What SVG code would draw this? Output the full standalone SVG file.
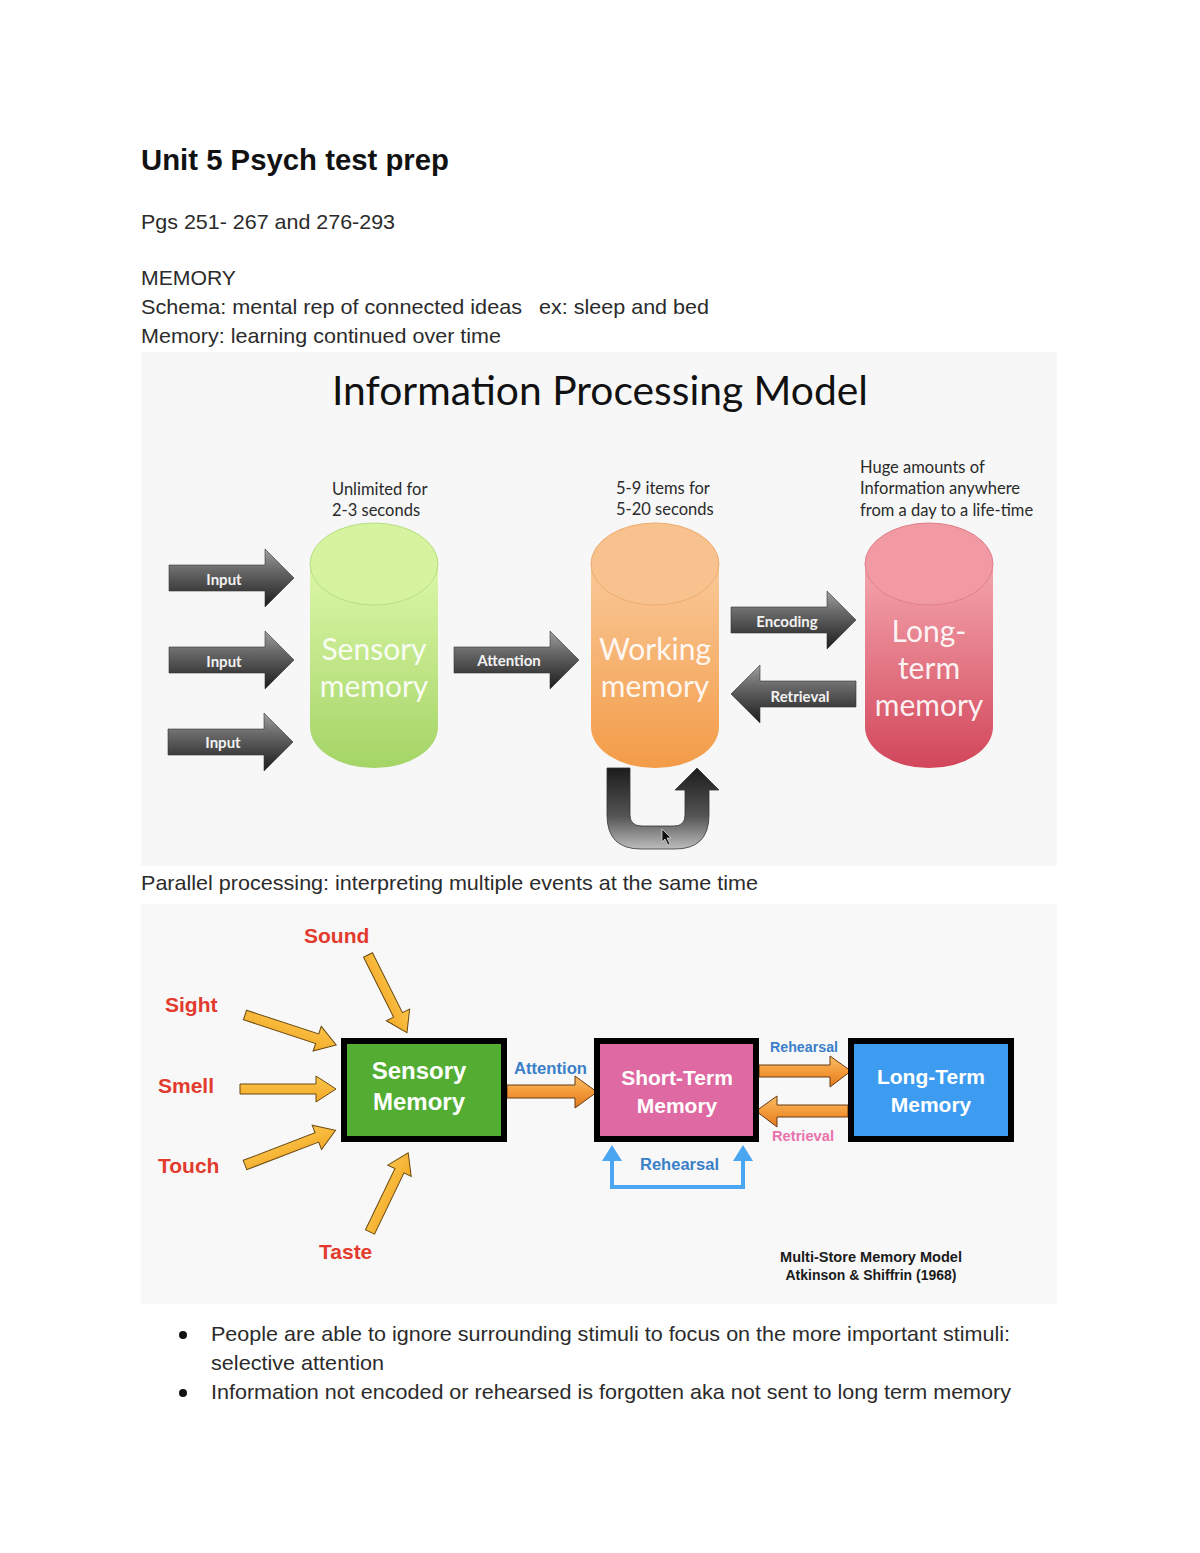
<svg xmlns="http://www.w3.org/2000/svg" xmlns:xlink="http://www.w3.org/1999/xlink" width="1200" height="1553" viewBox="0 0 1200 1553">
<style>
.body{font-family:"Liberation Sans",Arial,sans-serif;font-size:21px;fill:#2b2b2b}
.title{font-family:"Liberation Sans",Arial,sans-serif;font-size:29px;font-weight:bold;fill:#111}
.cal{font-family:Lato,"Open Sans",sans-serif}
.note{font-family:Lato,"Open Sans",sans-serif;font-size:16.5px;fill:#2a2a2a}
.cyl-txt{font-family:Lato,"Open Sans",sans-serif;font-size:30px;fill:#fff;fill-opacity:0.92;text-anchor:middle}
.arr-txt{font-family:Lato,"Open Sans",sans-serif;font-size:15px;font-weight:bold;fill:#f2f2f2;text-anchor:middle}
.garrow{fill:url(#gGray);stroke:#333;stroke-width:0.6}
.oarrow{fill:url(#gOrange);stroke:#6a3a10;stroke-width:1}
.yarrow{fill:url(#gYellow);stroke:#6a4a10;stroke-width:1}
.sense{font-family:"Liberation Sans",Arial,sans-serif;font-size:21px;font-weight:bold;fill:#e23b2e}
.box{stroke:#000;stroke-width:6}
.box-txt{font-family:"Liberation Sans",Arial,sans-serif;font-weight:bold;fill:#fff;text-anchor:middle}
.blue-lbl{font-family:"Liberation Sans",Arial,sans-serif;font-weight:bold;fill:#3a7fc8}
.cap{font-family:"Liberation Sans",Arial,sans-serif;font-size:14px;font-weight:bold;fill:#1a1a1a;text-anchor:middle}
</style>
<defs>
<linearGradient id="gGray" x1="0" y1="0" x2="0" y2="1">
<stop offset="0" stop-color="#a0a0a0"/><stop offset="0.35" stop-color="#6a6a6a"/><stop offset="1" stop-color="#1c1c1c"/>
</linearGradient>
<linearGradient id="gU" x1="0" y1="0" x2="0" y2="1">
<stop offset="0" stop-color="#1c1c1c"/><stop offset="0.6" stop-color="#555"/><stop offset="1" stop-color="#bdbdbd"/>
</linearGradient>
<linearGradient id="gOrange" x1="0" y1="0" x2="0" y2="1">
<stop offset="0" stop-color="#f9bf6a"/><stop offset="0.5" stop-color="#f39a3a"/><stop offset="1" stop-color="#e07a20"/>
</linearGradient>
<linearGradient id="gYellow" x1="0" y1="0" x2="0" y2="1">
<stop offset="0" stop-color="#fbc54a"/><stop offset="1" stop-color="#f3a928"/>
</linearGradient>
<linearGradient id="gGreen" x1="0" y1="0" x2="0" y2="1">
<stop offset="0" stop-color="#dcf7a8"/><stop offset="1" stop-color="#a4d466"/>
</linearGradient>
<linearGradient id="gOrCyl" x1="0" y1="0" x2="0" y2="1">
<stop offset="0" stop-color="#f9c898"/><stop offset="1" stop-color="#f39c48"/>
</linearGradient>
<linearGradient id="gRed" x1="0" y1="0" x2="0" y2="1">
<stop offset="0" stop-color="#f4a6ae"/><stop offset="1" stop-color="#d2465a"/>
</linearGradient>
<path id="grayArrow" class="garrow" d="M0,-13 H96 V-29 L125,0 L96,29 V13 H0 Z"/>
</defs>

<rect x="0" y="0" width="1200" height="1553" fill="#fff"/>

<!-- Header text -->
<g id="header">
<text class="title" x="141" y="170" textLength="308" lengthAdjust="spacingAndGlyphs">Unit 5 Psych test prep</text>
<text class="body" x="141" y="229" textLength="254" lengthAdjust="spacingAndGlyphs">Pgs 251- 267 and 276-293</text>
<text class="body" x="141" y="285" textLength="95" lengthAdjust="spacingAndGlyphs">MEMORY</text>
<text class="body" x="141" y="314" textLength="381" lengthAdjust="spacingAndGlyphs">Schema: mental rep of connected ideas</text>
<text class="body" x="539" y="314" textLength="170" lengthAdjust="spacingAndGlyphs">ex: sleep and bed</text>
<text class="body" x="141" y="343" textLength="360" lengthAdjust="spacingAndGlyphs">Memory: learning continued over time</text>
</g>

<!-- Image 1: Information Processing Model -->
<rect x="141" y="352" width="916" height="514" fill="#f7f7f7"/>
<text class="cal" x="600" y="405" font-size="40" fill="#111" text-anchor="middle" textLength="536" lengthAdjust="spacingAndGlyphs">Information Processing Model</text>

<g id="ipm-notes">
<text class="note" x="332" y="495">Unlimited for</text>
<text class="note" x="332" y="516">2-3 seconds</text>
<text class="note" x="616" y="494">5-9 items for</text>
<text class="note" x="616" y="515">5-20 seconds</text>
<text class="note" x="860" y="473">Huge amounts of</text>
<text class="note" x="860" y="494">Information anywhere</text>
<text class="note" x="860" y="516">from a day to a life-time</text>
</g>

<g id="ipm-connectors">
<use xlink:href="#grayArrow" href="#grayArrow" transform="translate(169,578)"/>
<use xlink:href="#grayArrow" href="#grayArrow" transform="translate(169,660)"/>
<use xlink:href="#grayArrow" href="#grayArrow" transform="translate(168,742)"/>
<use xlink:href="#grayArrow" href="#grayArrow" transform="translate(454,660)"/>
<use xlink:href="#grayArrow" href="#grayArrow" transform="translate(731,620)"/>
<use xlink:href="#grayArrow" href="#grayArrow" transform="translate(856,694) scale(-1,1)"/>
<path d="M607,768 V815 Q607,849 641,849 H675 Q709,849 709,815 V790 H719 L697,768 L675,790 H685 V815 Q685,826 674,826 H642 Q630,826 630,815 V768 Z" fill="url(#gU)" stroke="#333" stroke-width="0.8"/>
<path d="M662,829 L662,842 L665,839 L668,845 L670,844 L667,838 L671,838 Z" fill="#111" stroke="#fff" stroke-width="0.6"/>
<text class="arr-txt" x="224" y="585">Input</text>
<text class="arr-txt" x="224" y="667">Input</text>
<text class="arr-txt" x="223" y="748">Input</text>
<text class="arr-txt" x="509" y="666">Attention</text>
<text class="arr-txt" x="787" y="627">Encoding</text>
<text class="arr-txt" x="800" y="702">Retrieval</text>
</g>

<g id="sensory-cylinder">
<path d="M310,564 V727 A64,41 0 0 0 438,727 V564 Z" fill="url(#gGreen)"/>
<ellipse cx="374" cy="564" rx="64" ry="41" fill="#d6f4a0" stroke="#b8de82" stroke-width="1"/>
<text class="cyl-txt" x="374" y="660">Sensory</text>
<text class="cyl-txt" x="374" y="697">memory</text>
</g>

<g id="working-cylinder">
<path d="M591,564 V727 A64,41 0 0 0 719,727 V564 Z" fill="url(#gOrCyl)"/>
<ellipse cx="655" cy="564" rx="64" ry="41" fill="#f8c28e" stroke="#eeac70" stroke-width="1"/>
<text class="cyl-txt" x="655" y="660">Working</text>
<text class="cyl-txt" x="655" y="697">memory</text>
</g>

<g id="longterm-cylinder">
<path d="M865,564 V727 A64,41 0 0 0 993,727 V564 Z" fill="url(#gRed)"/>
<ellipse cx="929" cy="564" rx="64" ry="41" fill="#f29aa4" stroke="#e0808c" stroke-width="1"/>
<text class="cyl-txt" x="929" y="642">Long-</text>
<text class="cyl-txt" x="929" y="679">term</text>
<text class="cyl-txt" x="929" y="716">memory</text>
</g>

<text class="body" x="141" y="890" textLength="617" lengthAdjust="spacingAndGlyphs">Parallel processing: interpreting multiple events at the same time</text>

<!-- Image 2: Multi-store model -->
<rect x="141" y="904" width="916" height="400" fill="#f8f8f8"/>

<g id="msm-connectors">
<path class="yarrow" transform="translate(368,955) rotate(63.4)" d="M0,-5 H67 V-13 L87,0 L67,13 V5 H0 Z"/>
<path class="yarrow" transform="translate(245,1015) rotate(18.2)" d="M0,-5 H76 V-13 L96,0 L76,13 V5 H0 Z"/>
<path class="yarrow" transform="translate(240,1089)" d="M0,-5 H76 V-13 L96,0 L76,13 V5 H0 Z"/>
<path class="yarrow" transform="translate(245,1165) rotate(-21)" d="M0,-5 H77 V-13 L97,0 L77,13 V5 H0 Z"/>
<path class="yarrow" transform="translate(370,1232) rotate(-64.3)" d="M0,-5 H68 V-13 L88,0 L68,13 V5 H0 Z"/>
<path class="oarrow" d="M507,1085 H575 V1076 L597,1092 L575,1108 V1098 H507 Z"/>
<path class="oarrow" d="M759,1065 H830 V1056 L851,1071 L830,1087 V1077 H759 Z"/>
<path class="oarrow" d="M848,1105 H777 V1096 L756,1111 L777,1127 V1117 H848 Z"/>
<path d="M612,1160 V1187 H743 V1160" fill="none" stroke="#4aa6f0" stroke-width="4"/>
<polygon points="612,1145 602,1161 622,1161" fill="#4aa6f0"/>
<polygon points="743,1145 733,1161 753,1161" fill="#4aa6f0"/>
<text class="blue-lbl" x="514" y="1074" font-size="16" textLength="73" lengthAdjust="spacingAndGlyphs">Attention</text>
<text class="blue-lbl" x="770" y="1052" font-size="14" textLength="68" lengthAdjust="spacingAndGlyphs">Rehearsal</text>
<text x="772" y="1141" font-family="Liberation Sans, Arial, sans-serif" font-size="14" font-weight="bold" fill="#ea72ac" textLength="62" lengthAdjust="spacingAndGlyphs">Retrieval</text>
<text class="blue-lbl" x="640" y="1170" font-size="16" textLength="79" lengthAdjust="spacingAndGlyphs">Rehearsal</text>
</g>

<g id="sense-labels">
<text class="sense" x="304" y="943">Sound</text>
<text class="sense" x="165" y="1012">Sight</text>
<text class="sense" x="158" y="1093">Smell</text>
<text class="sense" x="158" y="1173">Touch</text>
<text class="sense" x="319" y="1259">Taste</text>
</g>

<g id="sensory-box">
<rect class="box" x="344" y="1041" width="160" height="98" fill="#53ad33"/>
<text class="box-txt" x="419" y="1079" font-size="24">Sensory</text>
<text class="box-txt" x="419" y="1110" font-size="24">Memory</text>
</g>

<g id="stm-box">
<rect class="box" x="597" y="1041" width="159" height="98" fill="#df69a2"/>
<text class="box-txt" x="677" y="1085" font-size="21">Short-Term</text>
<text class="box-txt" x="677" y="1113" font-size="21">Memory</text>
</g>

<g id="ltm-box">
<rect class="box" x="851" y="1041" width="160" height="98" fill="#3e9cf0"/>
<text class="box-txt" x="931" y="1084" font-size="21">Long-Term</text>
<text class="box-txt" x="931" y="1112" font-size="21">Memory</text>
</g>

<g id="caption">
<text class="cap" x="871" y="1262" textLength="182" lengthAdjust="spacingAndGlyphs">Multi-Store Memory Model</text>
<text class="cap" x="871" y="1280" textLength="171" lengthAdjust="spacingAndGlyphs">Atkinson &amp; Shiffrin (1968)</text>
</g>

<g id="bullets">
<circle cx="183" cy="1335" r="4" fill="#111"/>
<text class="body" x="211" y="1341" textLength="799" lengthAdjust="spacingAndGlyphs">People are able to ignore surrounding stimuli to focus on the more important stimuli:</text>
<text class="body" x="211" y="1370" textLength="173" lengthAdjust="spacingAndGlyphs">selective attention</text>
<circle cx="183" cy="1393" r="4" fill="#111"/>
<text class="body" x="211" y="1399" textLength="800" lengthAdjust="spacingAndGlyphs">Information not encoded or rehearsed is forgotten aka not sent to long term memory</text>
</g>
</svg>
